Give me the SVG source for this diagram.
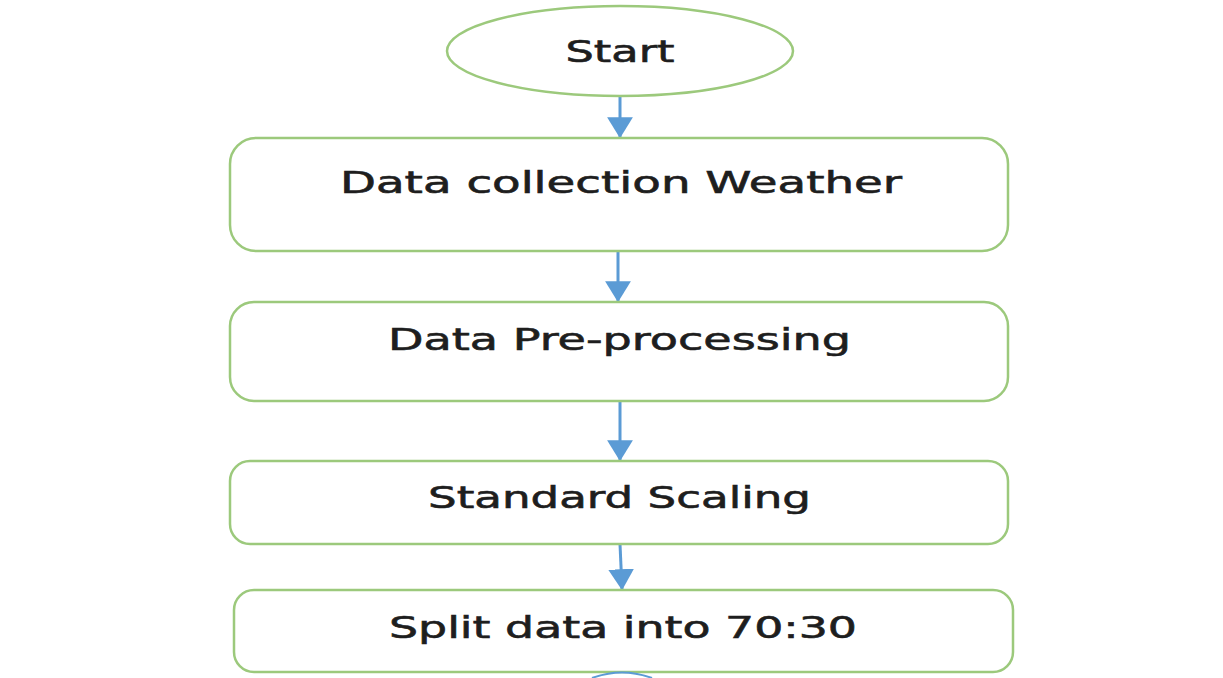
<svg xmlns="http://www.w3.org/2000/svg" width="1223" height="678" viewBox="0 0 1223 678">
<style>
.node{fill:#ffffff;stroke:#9cc97c;stroke-width:2.5}
.lbl{font-family:"DejaVu Sans",sans-serif;font-size:30px;fill:#1e1e1e;stroke:#1e1e1e;stroke-width:0.6;text-anchor:middle}
.con{stroke:#5b9bd5;stroke-width:3;fill:none}
</style>
<defs>
<marker id="ah" markerWidth="7" markerHeight="8.6" refX="6.6" refY="4.3" orient="auto" markerUnits="strokeWidth">
<path d="M0,0 L7,4.3 L0,8.6 Z" fill="#5b9bd5"/>
</marker>
</defs>
<rect width="1223" height="678" fill="#ffffff"/>
<g id="connectors">
<line class="con" x1="620" y1="97" x2="620" y2="137" marker-end="url(#ah)"/>
<line class="con" x1="618" y1="251" x2="618" y2="301" marker-end="url(#ah)"/>
<line class="con" x1="620" y1="401" x2="620" y2="460" marker-end="url(#ah)"/>
<line class="con" x1="620" y1="544" x2="622" y2="589" marker-end="url(#ah)"/>
</g>
<g id="start">
<ellipse class="node" cx="620" cy="51" rx="173" ry="45"/>
<text class="lbl" x="620" y="62" textLength="109" lengthAdjust="spacingAndGlyphs">Start</text>
</g>
<g id="data-collection">
<rect class="node" x="230" y="138" width="778" height="113" rx="26"/>
<text class="lbl" x="621" y="193" textLength="562" lengthAdjust="spacingAndGlyphs">Data collection Weather</text>
</g>
<g id="pre-processing">
<rect class="node" x="230" y="302" width="778" height="99" rx="24"/>
<text class="lbl" x="619.5" y="350" textLength="463" lengthAdjust="spacingAndGlyphs">Data Pre-processing</text>
</g>
<g id="scaling">
<rect class="node" x="230" y="461" width="778" height="83" rx="20"/>
<text class="lbl" x="619.5" y="508" textLength="383" lengthAdjust="spacingAndGlyphs">Standard Scaling</text>
</g>
<g id="split">
<rect class="node" x="234" y="590" width="779" height="82" rx="20"/>
<text class="lbl" x="623" y="638" textLength="468" lengthAdjust="spacingAndGlyphs">Split data into 70:30</text>
</g>
<g id="next-partial">
<path d="M592,678 Q622,667 652,678" fill="none" stroke="#5b9bd5" stroke-width="2"/>
</g>
</svg>
